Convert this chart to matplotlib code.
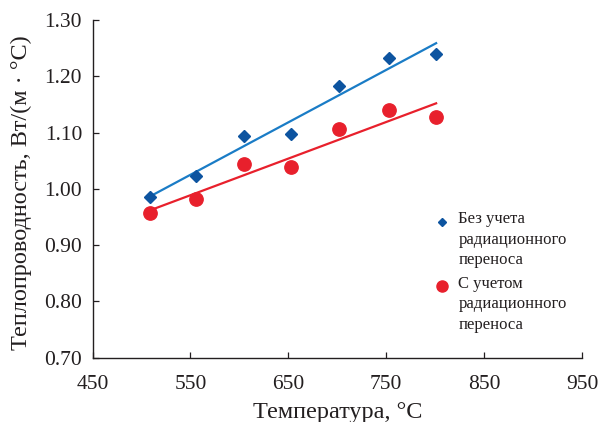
import numpy as np
import matplotlib
matplotlib.use("Agg")
import matplotlib.pyplot as plt
from matplotlib.lines import Line2D

# Data
temp = [509, 556, 605, 653, 702, 753, 801]
k_no_rad = [0.985, 1.022, 1.094, 1.098, 1.183, 1.233, 1.239]
k_rad = [0.957, 0.982, 1.044, 1.038, 1.107, 1.140, 1.127]
label_no_rad = "Без учета\nрадиационного\nпереноса"
label_rad = "С учетом\nрадиационного\nпереноса"
xticks = [450, 550, 650, 750, 850, 950]
yticks = [0.70, 0.80, 0.90, 1.00, 1.10, 1.20, 1.30]

plt.rcParams['font.family'] = ['Liberation Serif', 'DejaVu Serif']

BLUE_M = '#0d54a0'
BLUE_L = '#1a7cc6'
RED = '#e8202c'
INK = '#231f20'

fig = plt.figure(figsize=(6.01, 4.22), dpi=100)
ax = fig.add_axes([92.5/601, 1-357.7/422, (582-92.5)/601, (357.7-20)/422])

x = np.array(temp, dtype=float)
for ys, col in ((k_no_rad, BLUE_L), (k_rad, RED)):
    p = np.polyfit(x, np.array(ys), 1)
    xl = np.array([x.min(), x.max()])
    ax.plot(xl, np.polyval(p, xl), color=col, lw=1.6, zorder=2)

ax.plot(temp, k_no_rad, linestyle='none', marker='D', ms=5.8, color=BLUE_M,
        mec=BLUE_M, zorder=3)
ax.plot(temp, k_rad, linestyle='none', marker='o', ms=9.6, color=RED,
        mec=RED, zorder=3)

ax.set_xlim(450, 950)
ax.set_ylim(0.70, 1.30)
ax.set_xticks(xticks)
ax.set_yticks(yticks)
ax.set_yticklabels([f"{v:.2f}" for v in yticks])
ax.tick_params(direction='in', length=4, width=0.9, labelsize=15.5, color=INK,
               labelcolor=INK)
ax.tick_params(axis='x', pad=12.5)
ax.tick_params(axis='y', pad=7.5)
for s in ('top', 'right'):
    ax.spines[s].set_visible(False)
for s in ('left', 'bottom'):
    ax.spines[s].set_linewidth(1.0)
    ax.spines[s].set_color(INK)

ax.set_xlabel("Температура, °C", fontsize=17.5, color=INK)
ax.set_ylabel("Теплопроводность, Вт/(м · °C)", fontsize=17.5, color=INK)
ax.xaxis.set_label_coords(0.5, -(402.0 - 357.7) / (357.7 - 20))
ax.yaxis.set_label_coords(-(92.5 - 32.5) / (582 - 92.5), 0.49)

# Legend (drawn manually to match layout)
def fx(px):
    return px / 601
def fy(py):
    return 1 - py / 422

fig.add_artist(Line2D([fx(442.3)], [fy(221.7)], marker='D', ms=4.0, color=BLUE_M,
                      linestyle='none', transform=fig.transFigure))
fig.add_artist(Line2D([fx(442.3)], [fy(285.7)], marker='o', ms=8.0, color=RED,
                      linestyle='none', transform=fig.transFigure))
fig.text(fx(458.3), fy(264.3), label_no_rad, fontsize=12, va='baseline', ha='left',
         linespacing=1.38, color=INK, transform=fig.transFigure)
fig.text(fx(458.3), fy(329.0), label_rad, fontsize=12, va='baseline', ha='left',
         linespacing=1.38, color=INK, transform=fig.transFigure)

fig.savefig("out.png", dpi=100)
